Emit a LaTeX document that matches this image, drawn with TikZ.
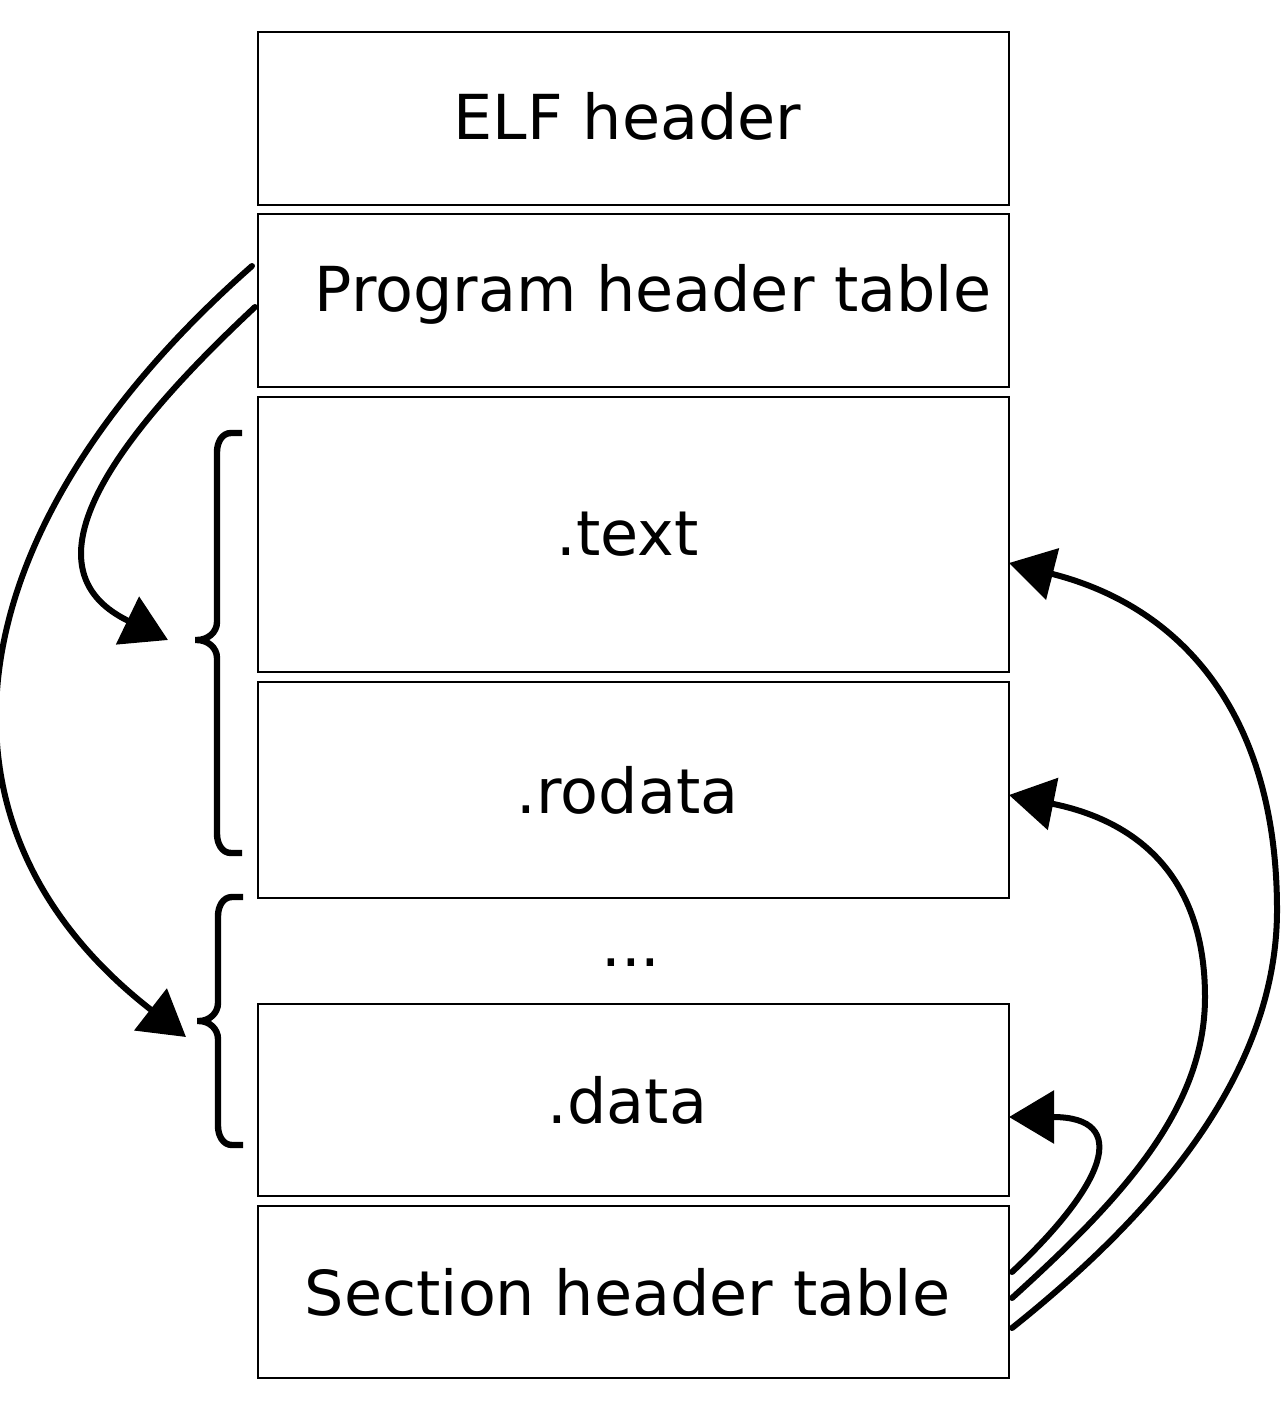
\documentclass[tikz,border=0pt]{standalone}
\usepackage{fontspec}
\setmainfont{DejaVu Sans}
\usepackage{tikz}
\usetikzlibrary{arrows.meta,positioning}
\tikzset{
  segbox/.style={draw,line width=1pt,minimum width=375.5pt,inner sep=0pt,outer sep=0pt},
  segbrace/.style={line width=3.2pt},
  ptr/.style={line width=3pt,line cap=round,-{Triangle[length=22.5pt,width=26pt]}}
}

\begin{document}
\begin{tikzpicture}[x=0.5pt,y=0.5pt,font=\fontsize{31pt}{36pt}\selectfont]
\useasboundingbox (0,0) rectangle (1280,-1418);
% file layout
\node[segbox,minimum height=86.5pt] (elfhdr) at (633.5,-118.5) {};
\node[segbox,minimum height=86.5pt,below=4.5pt of elfhdr] (phdr) {};
\node[segbox,minimum height=137.5pt,below=5pt of phdr] (text) {};
\node[segbox,minimum height=108pt,below=5pt of text] (rodata) {};
\node[segbox,minimum height=96pt,below=53pt of rodata] (data) {};
\node[segbox,minimum height=86pt,below=5pt of data] (shdr) {};
\node (elflabel) at ([xshift=-3pt,yshift=1pt]elfhdr.center) {ELF header};
\node (phlabel) at ([xshift=9.75pt,yshift=3pt]phdr.center) {Program header table};
\node (textlabel) at ([xshift=-3pt]text.center) {.text};
\node (rodatalabel) at ([xshift=-3pt]rodata.center) {.rodata};
\node[anchor=base] (gap) at (631,-966) {...};
\node (datalabel) at ([xshift=-3pt]data.center) {.data};
\node (shdrlabel) at ([xshift=-3pt]shdr.center) {Section header table};
% segments
\draw[segbrace] (242,-433) -- (231,-433) to[out=180,in=90] (217,-452) -- (217,-622)
  to[out=-90,in=0] (197,-640) -- (195,-640) -- (197,-640) to[out=0,in=90] (217,-658)
  -- (217,-834) to[out=-90,in=180] (231,-853) -- (242,-853);
\draw[segbrace] (243,-897) -- (232,-897) to[out=180,in=90] (218,-916) -- (218,-1003)
  to[out=-90,in=0] (199,-1021) -- (197,-1021) -- (199,-1021) to[out=0,in=90] (218,-1039)
  -- (218,-1126) to[out=-90,in=180] (232,-1145) -- (243,-1145);
\coordinate (codeseg) at (168,-640);
\coordinate (dataseg) at (186,-1037);
% program headers point to segments
\draw[ptr] ([xshift=-3pt,yshift=17.25pt]phdr.west) .. controls (-48,-530) and (-88,-824) .. (dataseg);
\draw[ptr] ([xshift=-1.5pt,yshift=-3.25pt]phdr.west) .. controls (146,-409) and (6,-562) .. (codeseg);
% section headers point to sections
\draw[ptr] ([xshift=1.5pt,yshift=10pt]shdr.east) .. controls (1105,-1185) and (1132,-1117) .. ([yshift=-8.5pt]data.east);
\draw[ptr] ([xshift=1.5pt,yshift=-3pt]shdr.east) .. controls (1120,-1200) and (1205,-1110) .. (1205,-997)
  .. controls (1205,-877) and (1138,-821) .. ([yshift=-2.5pt]rodata.east);
\draw[ptr] ([xshift=1.5pt,yshift=-18pt]shdr.east) .. controls (1160,-1210) and (1277,-1070) .. (1277,-910)
  .. controls (1277,-720) and (1187,-608) .. ([yshift=-14.25pt]text.east);
\end{tikzpicture}
\end{document}
